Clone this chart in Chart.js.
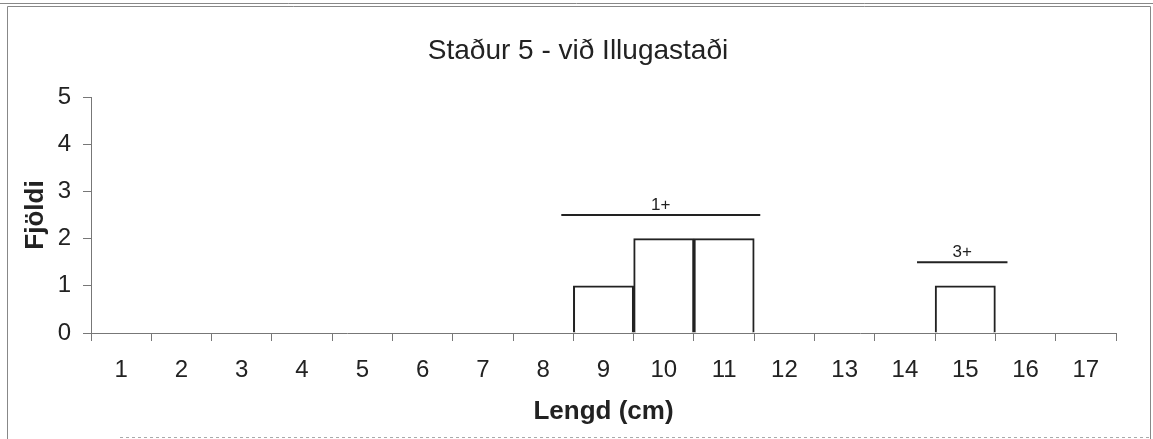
<!DOCTYPE html>
<html>
<head>
<meta charset="utf-8">
<script src="https://cdn.jsdelivr.net/npm/chart.js@4.4.0/dist/chart.umd.min.js"></script>
<style>
  html, body { margin: 0; padding: 0; background: #fff; }
  #wrap { width: 1153px; height: 439px; position: relative; }
</style>
</head>
<body>
<div id="wrap"><canvas id="myChart" width="1153" height="439"></canvas></div>
<script>
// lengths (cm) and counts
var lengths = ['1', '2', '3', '4', '5', '6', '7', '8', '9', '10', '11', '12', '13', '14', '15', '16', '17'];
var counts = [0, 0, 0, 0, 0, 0, 0, 0, 1, 2, 2, 0, 0, 0, 1, 0, 0];

// age groups drawn as lines above the bars (in cm / count units)
var groupNames = ['1+', '3+'];
var groupFrom = [8.3, 14.2];
var groupTo = [11.6, 15.7];
var groupLevel = [2.5, 1.5];

var chartTitle = 'Staður 5 - við Illugastaði';
var fontFamily = '"Liberation Sans", Arial, sans-serif';

// page frame and title, like the scanned figure
var framePlugin = {
    id: 'frame',
    beforeDraw: function (chart) {
        var c = chart.ctx;
        c.save();
        c.strokeStyle = '#888';
        c.lineWidth = 1;
        c.beginPath();
        c.moveTo(0, 3.5); c.lineTo(1153, 3.5);
        c.moveTo(7.5, 6.5); c.lineTo(1150.5, 6.5);
        c.moveTo(7.5, 6.5); c.lineTo(7.5, 439);
        c.moveTo(1150.5, 6.5); c.lineTo(1150.5, 439);
        c.stroke();
        c.setLineDash([3, 3]);
        c.strokeStyle = '#aaa';
        c.beginPath();
        c.moveTo(120, 437.5); c.lineTo(1150, 437.5);
        c.stroke();
        c.restore();

        // title centred on the whole figure
        c.save();
        c.fillStyle = '#222';
        c.font = '28px ' + fontFamily;
        c.textAlign = 'center';
        c.textBaseline = 'middle';
        c.fillText(chartTitle, 578, 51);
        c.restore();
    }
};

// group lines with labels
var groupPlugin = {
    id: 'groups',
    afterDatasetsDraw: function (chart) {
        var c = chart.ctx;
        var x = chart.scales.x, y = chart.scales.y;
        c.save();
        c.strokeStyle = '#222';
        c.lineWidth = 2;
        c.fillStyle = '#222';
        c.font = '17px ' + fontFamily;
        c.textAlign = 'center';
        c.textBaseline = 'bottom';
        for (var i = 0; i < groupNames.length; i++) {
            var x1 = x.getPixelForValue(groupFrom[i] - 1);
            var x2 = x.getPixelForValue(groupTo[i] - 1);
            var yy = y.getPixelForValue(groupLevel[i]);
            c.beginPath();
            c.moveTo(x1, yy);
            c.lineTo(x2, yy);
            c.stroke();
            c.fillText(groupNames[i], (x1 + x2) / 2, yy - 1);
        }
        c.restore();
    }
};

var ctx = document.getElementById('myChart');
var chart = new Chart(ctx, {
    type: 'bar',
    data: {
        labels: lengths,
        datasets: [{
            label: 'Fjöldi',
            data: counts,
            backgroundColor: '#fff',
            borderColor: '#222',
            borderWidth: 2,
            barPercentage: 1,
            categoryPercentage: 1
        }]
    },
    options: {
        responsive: false,
        animation: false,
        layout: { padding: { left: 0, right: 37, top: 97, bottom: 0 } },
        plugins: {
            legend: { display: false },
            tooltip: { enabled: false },
            title: { display: false }
        },
        scales: {
            x: {
                offset: true,
                grid: { offset: true, drawOnChartArea: false, color: '#777', tickLength: 8 },
                border: { color: '#777' },
                ticks: { color: '#222', font: { family: fontFamily, size: 24 }, padding: 15 },
                title: {
                    display: true, text: 'Lengd (cm)', color: '#222',
                    font: { family: fontFamily, size: 26, weight: 'bold' },
                    padding: { top: 4, bottom: 12 }
                },
                afterFit: function (s) { s.height = 106; }
            },
            y: {
                min: 0, max: 5,
                ticks: { stepSize: 1, color: '#222', font: { family: fontFamily, size: 24 }, padding: 12 },
                grid: { drawOnChartArea: false, color: '#777', tickLength: 8 },
                border: { color: '#777' },
                title: {
                    display: true, text: 'Fjöldi', color: '#222',
                    font: { family: fontFamily, size: 26, weight: 'bold' },
                    padding: { top: 20, bottom: 4 }
                },
                afterFit: function (s) { s.width = 91; }
            }
        }
    },
    plugins: [framePlugin, groupPlugin]
});
</script>
</body>
</html>
